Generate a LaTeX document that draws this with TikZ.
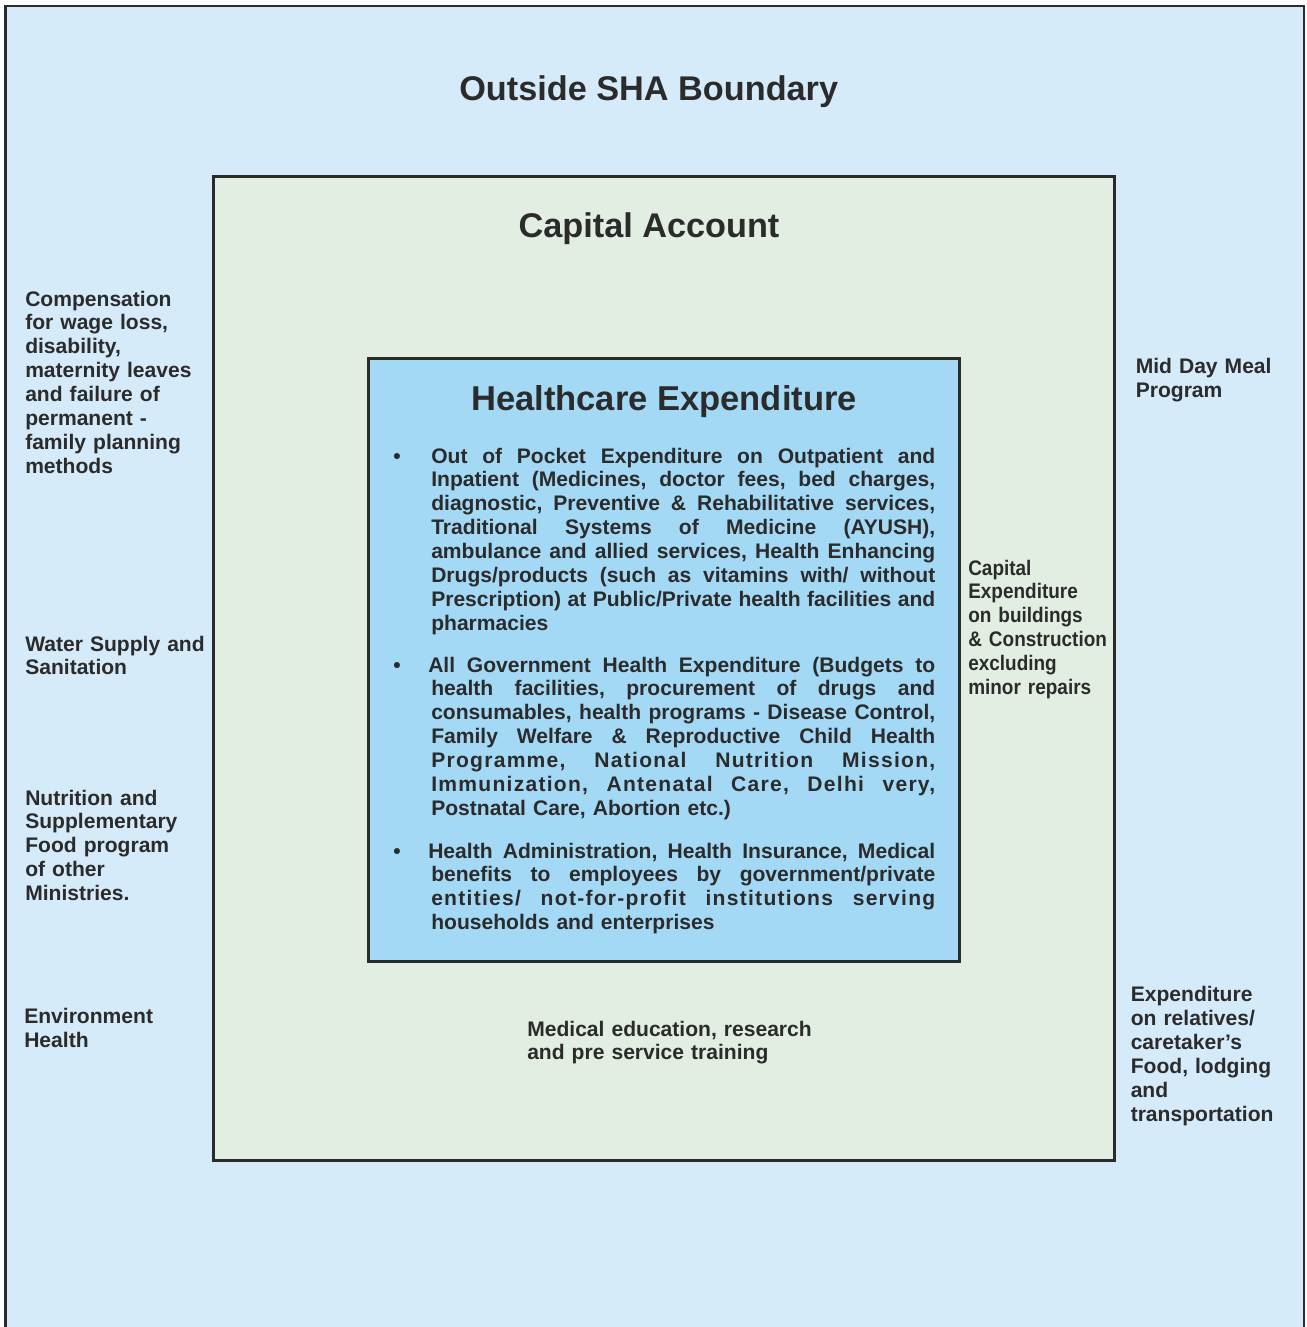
\documentclass[tikz,border=0pt]{standalone}
\usepackage{fontspec}
\setmainfont{Liberation Sans}
\newfontfamily\condfont{Liberation Sans}[FakeStretch=0.9]
\definecolor{outerfill}{HTML}{D5EBFA}
\definecolor{capfill}{HTML}{E1EEE1}
\definecolor{hcfill}{HTML}{A4D9F6}
\definecolor{ink}{HTML}{2B2B2B}
\newcommand{\jl}[1]{\makebox[378pt][s]{\frenchspacing\spaceskip=0.278em plus 1fil minus 0.1em\relax #1}}
\newcommand{\jls}[1]{\makebox[378pt][s]{\addfontfeatures{LetterSpace=6}\frenchspacing\spaceskip=0.278em plus 1fil minus 0.1em\relax #1}}
\newcommand{\jlw}[1]{\hspace*{-2.25pt}\makebox[380.25pt][s]{\frenchspacing\spaceskip=0.278em plus 1fil minus 0.1em\relax #1}}
\tikzset{
  regionbox/.style={draw=ink,line width=2.1pt},
  headtext/.style={font=\fontsize{25.7}{30}\selectfont\bfseries,text=ink,inner sep=0pt,anchor=base},
  sidetext/.style={font=\fontsize{15.8}{17.9}\selectfont\bfseries,text=ink,inner sep=0pt,anchor=base west,align=left,text width=#1},
  sidetext/.default=190pt,
  bullettext/.style={sidetext=378pt},
  bulletdot/.style={font=\fontsize{15.8}{17.9}\selectfont\bfseries,text=ink,inner sep=0pt,anchor=base},
}
\begin{document}
\begin{tikzpicture}[x=0.75pt,y=-0.75pt]
\useasboundingbox (0,0) rectangle (1306,1327);
\fill[white] (0,0) rectangle (1306,1327);
\begin{scope}
\clip (0,0) rectangle (1306,1327);
\draw[regionbox,fill=outerfill] (5.5,6) rectangle (1304,1360);
\end{scope}
\draw[regionbox,fill=capfill] (213.7,176.3) rectangle (1114.5,1160.8);
\draw[regionbox,fill=hcfill] (368.5,358.5) rectangle (959.5,961.3);

% titles
\node[headtext] (outsidetitle) at (648.7,100.7) {Outside SHA Boundary};
\node[headtext] (capitaltitle) at (649,237.7) {Capital Account};
\node[headtext,font=\fontsize{25.9}{30}\selectfont\bfseries] (hctitle) at (664,410) {Healthcare Expenditure};

% healthcare bullets
\node[bulletdot] (dotone) at (397,463) {•};
\node[bullettext] (hcitemone) at (431,463) {%
\jl{Out of Pocket Expenditure on Outpatient and}\\
\jl{Inpatient (Medicines, doctor fees, bed charges,}\\
\jl{diagnostic, Preventive \& Rehabilitative services,}\\
\jl{Traditional Systems of Medicine (AYUSH),}\\
\jl{ambulance and allied services, Health Enhancing}\\
\jl{Drugs/products (such as vitamins with/ without}\\
\jl{Prescription) at Public/Private health facilities and}\\
pharmacies};

\node[bulletdot] (dottwo) at (397,672) {•};
\node[bullettext] (hcitemtwo) at (431,672) {%
\jlw{All Government Health Expenditure (Budgets to}\\
\jl{health facilities, procurement of drugs and}\\
\jl{consumables, health programs - Disease Control,}\\
\jl{Family Welfare \& Reproductive Child Health}\\
\jls{Programme, National Nutrition Mission,}\\
\jls{Immunization, Antenatal Care, Delhi very,}\\
Postnatal Care, Abortion etc.)};

\node[bulletdot] (dotthree) at (397,858) {•};
\node[bullettext] (hcitemthree) at (431,858) {%
\jlw{Health Administration, Health Insurance, Medical}\\
\jl{benefits to employees by government/private}\\
\jls{entities/ not-for-profit institutions serving}\\
households and enterprises};

% left side labels
\node[sidetext] (compensation) at (25,306) {Compensation\\for wage loss,\\disability,\\maternity leaves\\and failure of\\permanent -\\family planning\\methods};
\node[sidetext] (water) at (25,651) {Water Supply and\\Sanitation};
\node[sidetext] (nutrition) at (25,805) {Nutrition and\\Supplementary\\Food program\\of other\\Ministries.};
\node[sidetext] (environment) at (24,1023.5) {Environment\\Health};

% right side labels
\node[sidetext] (middaymeal) at (1135.5,373.3) {Mid Day Meal\\Program};
\node[sidetext=140pt,font=\condfont\fontsize{15.8}{17.9}\selectfont\bfseries] (capexp) at (968,575) {Capital\\Expenditure\\on buildings\\\& Construction\\excluding\\minor repairs};
\node[sidetext] (relatives) at (1130.5,1001.7) {Expenditure\\on relatives/\\caretaker's\\Food, lodging\\and\\transportation};

% bottom label inside capital account
\node[sidetext=300pt] (meded) at (527,1036) {Medical education, research\\and pre service training};
\end{tikzpicture}
\end{document}
